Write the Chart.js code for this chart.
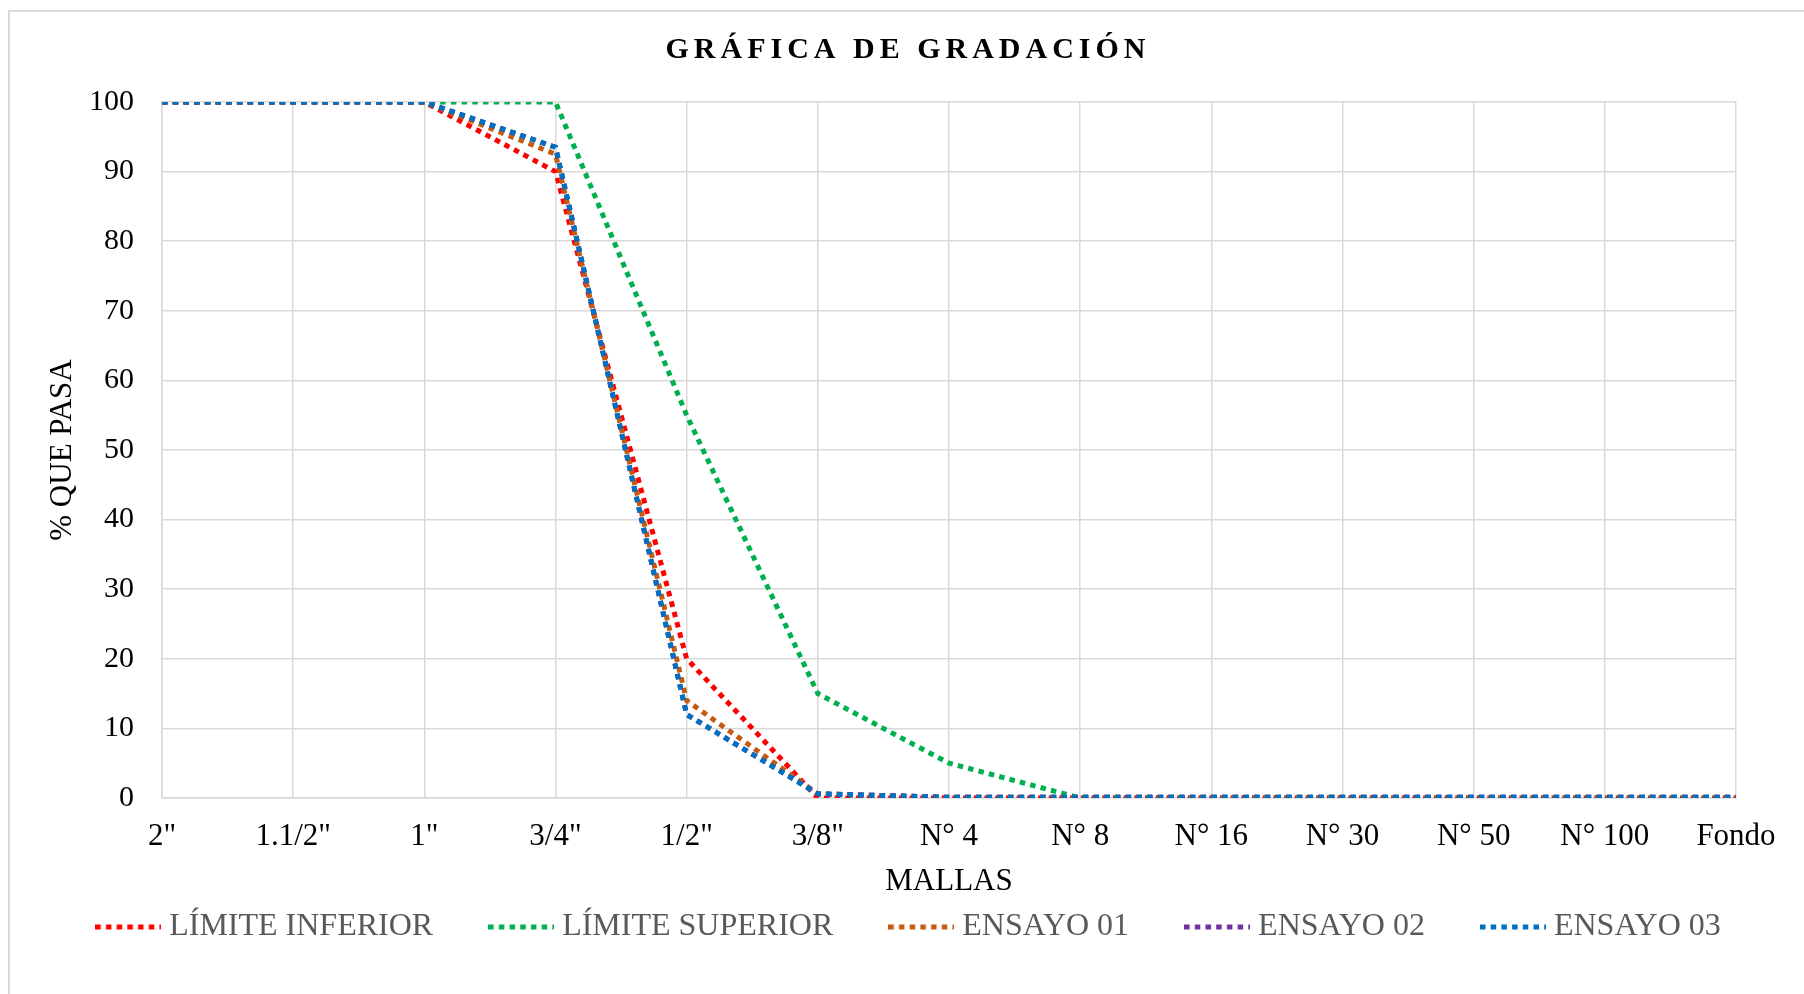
<!DOCTYPE html>
<html>
<head>
<meta charset="utf-8">
<title>Gráfica de gradación</title>
<script src="https://cdn.jsdelivr.net/npm/chart.js@4.4.0/dist/chart.umd.min.js"></script>
<style>
  html, body { margin: 0; padding: 0; background: #fff; overflow: hidden; }
  #marco { position: absolute; left: 8px; top: 10px; width: 2000px; height: 1200px; border: 2px solid #d9d9d9; box-sizing: border-box; }
  #wrap { position: absolute; left: 0; top: 0; width: 1804px; height: 994px; }
</style>
</head>
<body>
<div id="marco"></div>
<div id="wrap"><canvas id="grafica" width="1804" height="994"></canvas></div>
<script>
// --- Datos de la gráfica ---
const titulo = 'GRÁFICA DE GRADACIÓN';
const mallas = ['2"', '1.1/2"', '1"', '3/4"', '1/2"', '3/8"', 'N° 4', 'N° 8', 'N° 16', 'N° 30', 'N° 50', 'N° 100', 'Fondo'];
const limiteInferior = [100, 100, 100, 90, 20, 0, 0, 0, 0, 0, 0, 0, 0];
const limiteSuperior = [100, 100, 100, 100, 55, 15, 5, 0, 0, 0, 0, 0, 0];
const ensayo01 = [100, 100, 100, 92.5, 14, 0.6, 0.1, 0.1, 0.1, 0.1, 0.1, 0.1, 0.1];
const ensayo02 = [100, 100, 100, 93.5, 12, 0.6, 0.1, 0.1, 0.1, 0.1, 0.1, 0.1, 0.1];
const ensayo03 = [100, 100, 100, 93.5, 12, 0.6, 0.1, 0.1, 0.1, 0.1, 0.1, 0.1, 0.1];
const ticksY = [0, 10, 20, 30, 40, 50, 60, 70, 80, 90, 100];

const fuente = '"Liberation Serif", "Times New Roman", serif';
const colorGrid = '#d9d9d9';
const punteado = [5.5, 5.2];

// muestra punteada para la leyenda (el estilo 'line' de la leyenda no respeta el dash)
function muestraLeyenda(color) {
    const c = document.createElement('canvas');
    c.width = 66;
    c.height = 6;
    const g = c.getContext('2d');
    g.strokeStyle = color;
    g.lineWidth = 5;
    g.setLineDash(punteado);
    g.beginPath();
    g.moveTo(0, 3);
    g.lineTo(66, 3);
    g.stroke();
    return c;
}

// serie punteada al estilo de Excel
function serie(label, data, color, orden) {
    return {
        label: label,
        data: data,
        borderColor: color,
        backgroundColor: color,
        borderWidth: 5,
        borderDash: punteado,
        pointRadius: 0,
        pointHoverRadius: 0,
        pointStyle: muestraLeyenda(color),
        tension: 0,
        fill: false,
        order: orden
    };
}

// título con espaciado entre letras (el título nativo no lo permite)
const tituloPlugin = {
    id: 'tituloEspaciado',
    afterDraw(chart) {
        const ctx = chart.ctx;
        ctx.save();
        ctx.font = 'bold 30px ' + fuente;
        ctx.letterSpacing = '5px';
        ctx.fillStyle = '#000';
        ctx.textAlign = 'center';
        ctx.textBaseline = 'middle';
        ctx.fillText(titulo, 908, 50.5);
        ctx.restore();
    }
};

const ctx = document.getElementById('grafica');
new Chart(ctx, {
    type: 'line',
    data: {
        labels: mallas,
        datasets: [
            serie('LÍMITE INFERIOR', limiteInferior, '#FF0000', 5),
            serie('LÍMITE SUPERIOR', limiteSuperior, '#00B050', 4),
            serie('ENSAYO 01', ensayo01, '#C55A11', 3),
            serie('ENSAYO 02', ensayo02, '#7030A0', 2),
            serie('ENSAYO 03', ensayo03, '#0070C0', 1)
        ]
    },
    options: {
        responsive: false,
        animation: false,
        layout: { padding: { left: 20, right: 0, top: 102, bottom: 41 } },
        plugins: {
            title: { display: false },
            tooltip: { enabled: false },
            legend: {
                position: 'bottom',
                labels: {
                    usePointStyle: true,
                    pointStyleWidth: 50,
                    padding: 63,
                    color: '#595959',
                    font: { family: fuente, size: 32 },
                    sort: (a, b) => a.datasetIndex - b.datasetIndex
                }
            }
        },
        scales: {
            x: {
                offset: false,
                grid: { color: colorGrid, lineWidth: 1.5, drawTicks: false },
                border: { color: colorGrid, width: 1.5 },
                ticks: { color: '#000', font: { family: fuente, size: 31 }, padding: 20, autoSkip: false, maxRotation: 0 },
                title: { display: true, text: 'MALLAS', color: '#000', font: { family: fuente, size: 31 }, padding: { top: 0, bottom: -52 } },
                afterFit(scale) { scale.height = 50; }
            },
            y: {
                min: 0,
                max: 100,
                grid: { color: colorGrid, lineWidth: 1.5, drawTicks: false },
                border: { color: colorGrid, width: 1.5 },
                afterBuildTicks(scale) { scale.ticks = ticksY.map(v => ({ value: v })); },
                ticks: { color: '#000', font: { family: fuente, size: 30 }, padding: 28 },
                title: { display: true, text: '% QUE PASA', color: '#000', font: { family: fuente, size: 31 }, padding: { top: 24, bottom: 0 } },
                afterFit(scale) { scale.width = 142; }
            },
            // eje vacío a la derecha, solo reserva el margen del área de trazado
            margenDerecho: {
                position: 'right',
                min: 0,
                max: 1,
                grid: { display: false },
                border: { display: false },
                ticks: { display: false },
                afterFit(scale) { scale.width = 68; }
            }
        }
    },
    plugins: [tituloPlugin]
});
</script>
</body>
</html>
